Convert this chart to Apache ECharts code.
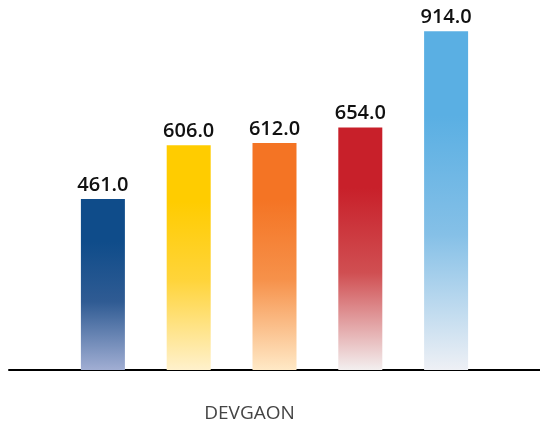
<!DOCTYPE html>
<html>
<head>
<meta charset="utf-8">
<script src="https://cdn.jsdelivr.net/npm/echarts@6/dist/echarts.min.js"></script>
<style>html,body{margin:0;padding:0;background:#fff}#c{width:540px;height:425px}</style>
</head>
<body>
<div id="c"></div>
<script>
const categories = ['DEVGAON'];
const seriesNames = ['S1', 'S2', 'S3', 'S4', 'S5'];
const values = [461, 606, 612, 654, 914];
const topColors = ['#0f4c8a', '#ffcc00', '#f47424', '#c8202a', '#5aafe3'];
const midColors = ['#2f5b93', '#ffd43a', '#f6914a', '#d04f52', '#85c0e7'];
const bottomColors = ['#a1aed3', '#fff1cc', '#ffe9c6', '#f3efef', '#eef0f5'];

const chart = echarts.init(document.getElementById('c'), null, {renderer: 'canvas'});
const series = values.map((v, i) => ({
  name: seriesNames[i],
  type: 'bar',
  data: [v],
  barWidth: 44,
  barGap: '95%',
  itemStyle: {
    color: new echarts.graphic.LinearGradient(0, 0, 0, 1, [
      {offset: 0, color: topColors[i]},
      {offset: 0.25, color: topColors[i]},
      {offset: 0.6, color: midColors[i]},
      {offset: 1, color: bottomColors[i]}
    ])
  },
  label: {
    show: true,
    position: 'top',
    distance: 4,
    formatter: p => p.value.toFixed(1),
    fontFamily: 'Open Sans',
    fontSize: 20,
    fontWeight: 600,
    color: '#111'
  }
}));

chart.setOption({
  animation: false,
  grid: {left: 9, right: -6, top: 0, bottom: 55},
  xAxis: {
    type: 'category',
    data: categories,
    offset: 2,
    axisLine: {lineStyle: {color: '#000', width: 2}},
    axisTick: {show: false},
    axisLabel: {
      margin: 32,
      fontFamily: 'Open Sans',
      fontSize: 19,
      color: '#444',
      padding: [0, 50, 0, 0]
    }
  },
  yAxis: {
    type: 'value',
    min: 0,
    max: 998,
    show: false,
    splitLine: {show: false}
  },
  series: series
});
</script>
</body>
</html>
